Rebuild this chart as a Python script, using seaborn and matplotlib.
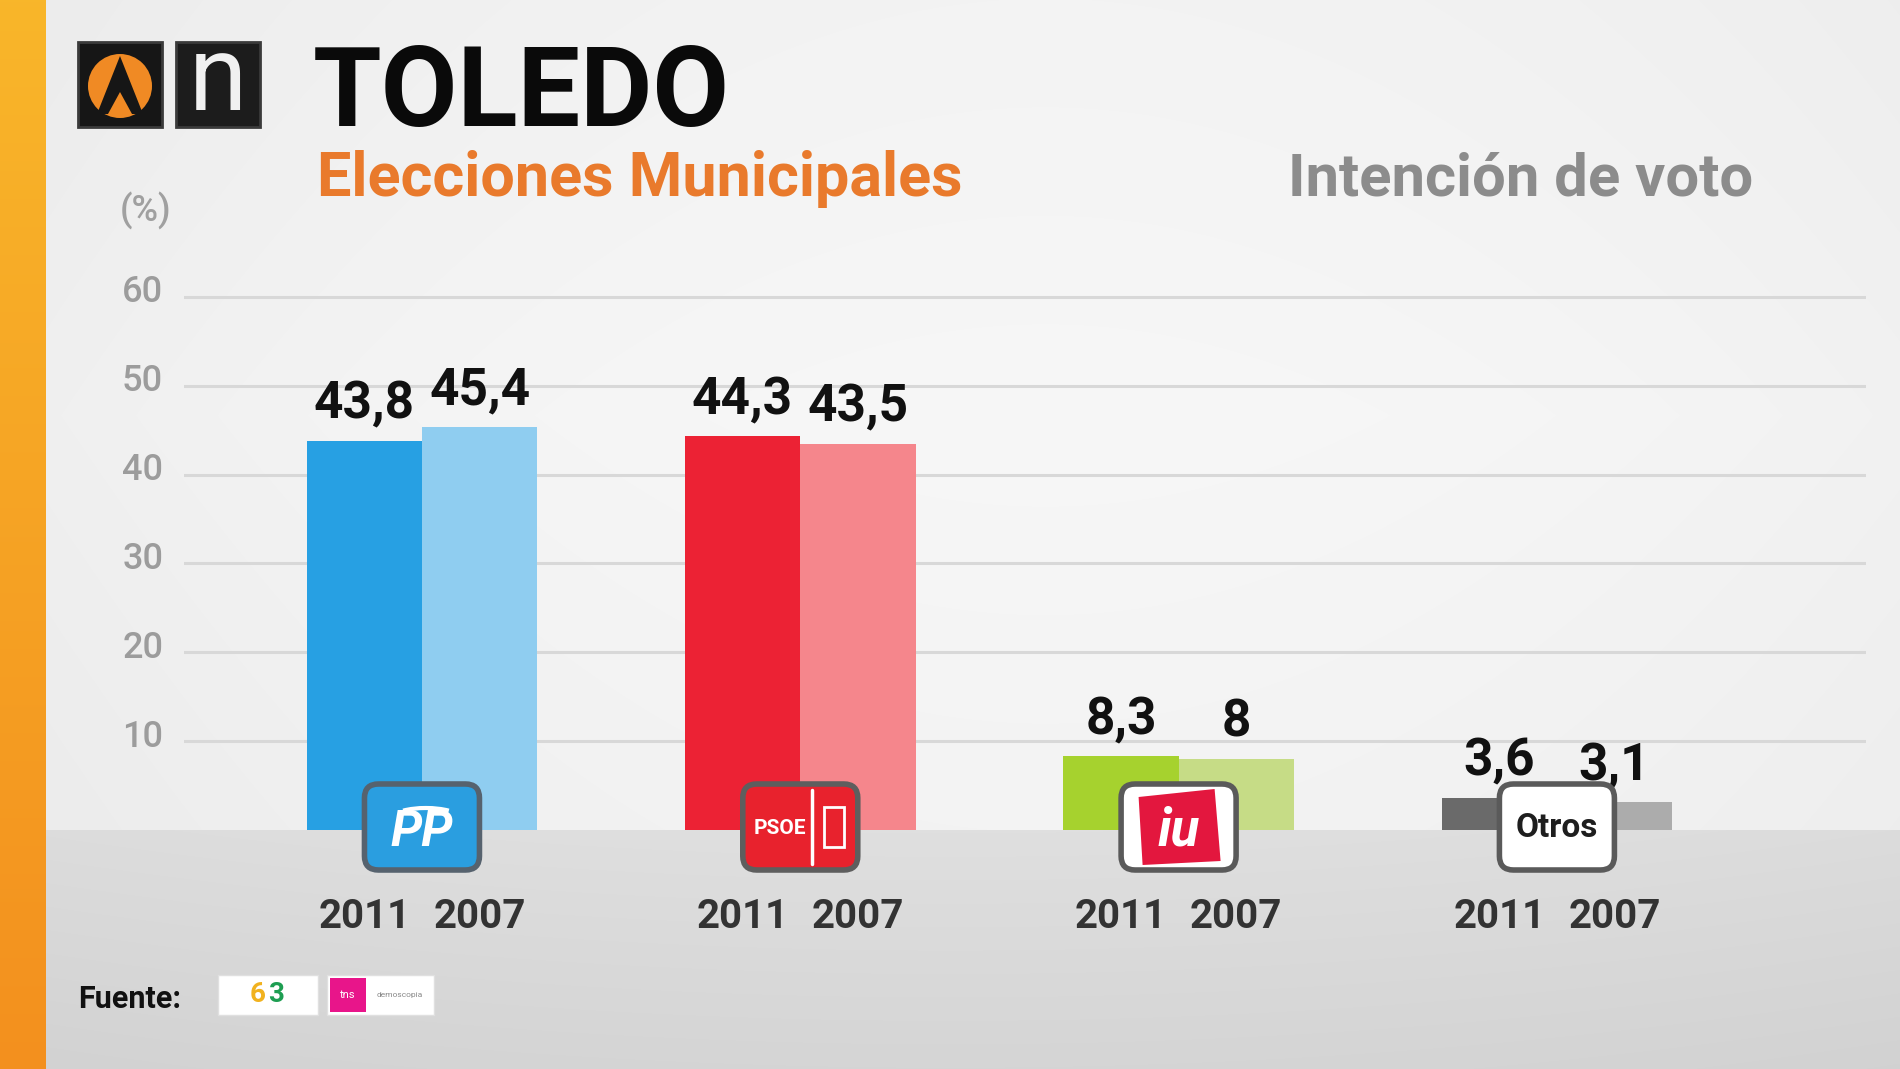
import numpy as np
import pandas as pd
import matplotlib
matplotlib.use("Agg")
import matplotlib.pyplot as plt
import seaborn as sns
from matplotlib import transforms, font_manager
from matplotlib.patches import FancyBboxPatch, Rectangle, Polygon, Circle, Arc

# ---------------- data ----------------
parties = ["PP", "PSOE", "IU", "Otros"]
years = ["2011", "2007"]
votes_2011 = [43.8, 44.3, 8.3, 3.6]
votes_2007 = [45.4, 43.5, 8.0, 3.1]
y_ticks = [10, 20, 30, 40, 50, 60]
title = "TOLEDO"
subtitle = "Elecciones Municipales"
right_title = "Intención de voto"
unit_label = "(%)"
source_label = "Fuente:"

# ---------------- style ----------------
bar_colors = {
    ("PP", "2011"): "#27a0e3", ("PP", "2007"): "#8fcdf0",
    ("PSOE", "2011"): "#ec2234", ("PSOE", "2007"): "#f5868c",
    ("IU", "2011"): "#a6d22e", ("IU", "2007"): "#c6dc86",
    ("Otros", "2011"): "#6a6a6a", ("Otros", "2007"): "#acacac",
}

sns.set_theme(style="white")
available = {f.name for f in font_manager.fontManager.ttflist}
FONT = "Roboto" if "Roboto" in available else "DejaVu Sans"
plt.rcParams["font.family"] = [FONT, "DejaVu Sans"]

df = pd.DataFrame({
    "party": parties * 2,
    "year": [years[0]] * len(parties) + [years[1]] * len(parties),
    "value": votes_2011 + votes_2007,
})

W, H = 1900, 1069
BASE_Y = 830           # pixel row of value 0
TOP60_Y = 297          # pixel row of value 60
px_per_unit = (BASE_Y - TOP60_Y) / 60.0
YMAX = 61

fig = plt.figure(figsize=(W / 100, H / 100), dpi=100)

# ---------------- background ----------------
ax_bg = fig.add_axes([0, 0, 1, 1], zorder=0)
ax_bg.axis("off")
yy, xx = np.mgrid[0:H, 0:W].astype(float)
upper = 0.968 - 0.10 * (xx / W - 0.55) ** 2 - 0.03 * np.abs(yy / BASE_Y - 0.5)
lower = 0.875 - 0.04 * ((yy - BASE_Y) / (H - BASE_Y)) - 0.05 * (xx / W - 0.5) ** 2
img = np.clip(np.where(yy < BASE_Y, upper, lower), 0, 1)
ax_bg.imshow(np.dstack([img] * 3), extent=[0, W, H, 0], aspect="auto",
             interpolation="bilinear")
t = np.linspace(0, 1, H)[:, None, None]
top_c = np.array([0.976, 0.714, 0.165])
bot_c = np.array([0.953, 0.565, 0.118])
stripe = top_c * (1 - t) + bot_c * t
ax_bg.imshow(stripe, extent=[0, 46, H, 0], aspect="auto", interpolation="bilinear")
ax_bg.set_xlim(0, W)
ax_bg.set_ylim(H, 0)

# ---------------- main chart ----------------
ax = fig.add_axes([184 / W, 1 - BASE_Y / H, (1866 - 184) / W,
                   (YMAX * px_per_unit) / H], zorder=1)
ax.patch.set_alpha(0)
sns.barplot(data=df, x="party", y="value", hue="year", order=parties,
            hue_order=years, width=0.61, saturation=1, errorbar=None,
            legend=False, linewidth=0, ax=ax)

for container, year in zip(ax.containers, years):
    for patch in container:
        idx = int(round(patch.get_x() + patch.get_width() / 2
                        - (-0.1525 if year == years[0] else 0.1525)))
        patch.set_facecolor(bar_colors[(parties[idx], year)])
        patch.set_edgecolor("none")


def fmt(v):
    s = f"{v:.1f}".rstrip("0").rstrip(".")
    return s.replace(".", ",")


for container in ax.containers:
    ax.bar_label(container, labels=[fmt(p.get_height()) for p in container],
                 padding=8, fontsize=37, fontweight="bold", color="#111111")

ax.set_xlim(-0.629, 3.817)
ax.set_ylim(0, YMAX)
ax.set_yticks(y_ticks)
ax.set_xticks([])
ax.set_xlabel("")
ax.set_ylabel("")
ax.yaxis.grid(True, color="#d8d8d8", linewidth=2.2)
ax.xaxis.grid(False)
ax.set_axisbelow(True)
for s in ax.spines.values():
    s.set_visible(False)
ax.tick_params(axis="y", length=0, pad=15, labelsize=26, labelcolor="#9c9c9c")
offset = transforms.ScaledTranslation(0, 0.08, fig.dpi_scale_trans)
for lab in ax.get_yticklabels():
    lab.set_fontweight("medium")
    lab.set_transform(lab.get_transform() + offset)

# ---------------- overlay (titles, logos, year labels) ----------------
ax_ov = fig.add_axes([0, 0, 1, 1], zorder=3)
ax_ov.set_xlim(0, W)
ax_ov.set_ylim(H, 0)
ax_ov.axis("off")
ax_ov.patch.set_alpha(0)
to_ov = ax.transData + ax_ov.transData.inverted()

ax_ov.text(313, 126, title, fontsize=80, fontweight="bold", color="#0a0a0a",
           ha="left", va="baseline")
ax_ov.text(317, 196, subtitle, fontsize=44, fontweight="bold", color="#e97a2c",
           ha="left", va="baseline")
ax_ov.text(1753, 196, right_title, fontsize=43, fontweight="bold", color="#8c8c8c",
           ha="right", va="baseline")
ax_ov.text(146, 222, unit_label, fontsize=26, color="#a0a0a0", ha="center",
           va="baseline", fontweight="medium")
ax_ov.text(78, 1008, source_label, fontsize=22, fontweight="bold", color="#111111",
           ha="left", va="baseline")

# channel logos
ax_ov.add_patch(Rectangle((78, 42), 84, 85, fc="#161616", ec="#3a3a3a", lw=2))
ax_ov.add_patch(Circle((120, 86), 32, fc="#f08a24", ec="none"))
ax_ov.add_patch(Polygon([(120, 56), (97, 114), (143, 114)], closed=True,
                        fc="#161616", ec="none"))
ax_ov.add_patch(Polygon([(120, 92), (108, 114), (132, 114)], closed=True,
                        fc="#f08a24", ec="none"))
ax_ov.add_patch(Rectangle((176, 42), 84, 85, fc="#1c1c1c", ec="#3a3a3a", lw=2))
ax_ov.text(218, 82, "n", fontsize=76, color="#f0f0f0", ha="center", va="center")

# source logos
ax_ov.add_patch(Rectangle((218, 975), 100, 40, fc="white", ec="#e0e0e0", lw=1))
ax_ov.text(258, 994, "6", fontsize=20, fontweight="bold", color="#f1b21f",
           ha="center", va="center")
ax_ov.text(276, 994, "3", fontsize=20, fontweight="bold", color="#1e9e52",
           ha="center", va="center")
ax_ov.add_patch(Rectangle((327, 975), 107, 40, fc="white", ec="#e0e0e0", lw=1))
ax_ov.add_patch(Rectangle((330, 978), 36, 34, fc="#e8158a", ec="none"))
ax_ov.text(348, 995, "tns", fontsize=8, color="white", ha="center", va="center")
ax_ov.text(400, 995, "demoscopia", fontsize=6, color="#888888", ha="center",
           va="center")

# party logos
box_w, box_h, box_top = 115, 86, 784
for i, party in enumerate(parties):
    cx = to_ov.transform((i, 0))[0]
    cy = box_top + box_h / 2
    if party == "PP":
        fc, ec = "#2a9ee0", "#56626e"
    elif party == "PSOE":
        fc, ec = "#e8222d", "#5e5e5e"
    else:
        fc, ec = "white", "#5a5a5a"
    ax_ov.add_patch(FancyBboxPatch((cx - box_w / 2, box_top), box_w, box_h,
                                   boxstyle="round,pad=0,rounding_size=14",
                                   fc=fc, ec=ec, lw=4, zorder=5))
    if party == "PP":
        ax_ov.text(cx, cy + 6, "PP", fontsize=36, fontweight="bold",
                   fontstyle="italic", color="white", ha="center", va="center",
                   zorder=6)
        ax_ov.add_patch(Arc((cx + 4, cy - 8), 70, 22, theta1=200, theta2=340,
                            color="white", lw=3, zorder=6))
    elif party == "PSOE":
        ax_ov.text(cx - 20, cy + 2, "PSOE", fontsize=15, fontweight="bold",
                   color="white", ha="center", va="center", zorder=6)
        ax_ov.plot([cx + 12, cx + 12], [box_top + 6, box_top + box_h - 6],
                   color="white", lw=2.5, zorder=6)
        ax_ov.add_patch(Rectangle((cx + 24, cy - 20), 20, 40, fc="none",
                                  ec="white", lw=2, zorder=6))
    elif party == "IU":
        ax_ov.add_patch(Polygon([(cx - 40, cy - 30), (cx + 36, cy - 38),
                                 (cx + 42, cy + 34), (cx - 36, cy + 38)],
                                closed=True, fc="#e3173e", ec="none", zorder=6))
        ax_ov.text(cx, cy + 4, "iu", fontsize=38, fontweight="bold",
                   fontstyle="italic", color="white", ha="center", va="center",
                   zorder=7)
    else:
        ax_ov.text(cx, cy + 1, "Otros", fontsize=24, fontweight="bold",
                   color="#1e1e1e", ha="center", va="center", zorder=6)

# year labels under each bar
for container, year in zip(ax.containers, years):
    for patch in container:
        bx = to_ov.transform((patch.get_x() + patch.get_width() / 2, 0))[0]
        ax_ov.text(bx, 928, year, fontsize=29, fontweight="bold",
                   color="#333333", ha="center", va="baseline")

fig.savefig("out.png", dpi=100)
